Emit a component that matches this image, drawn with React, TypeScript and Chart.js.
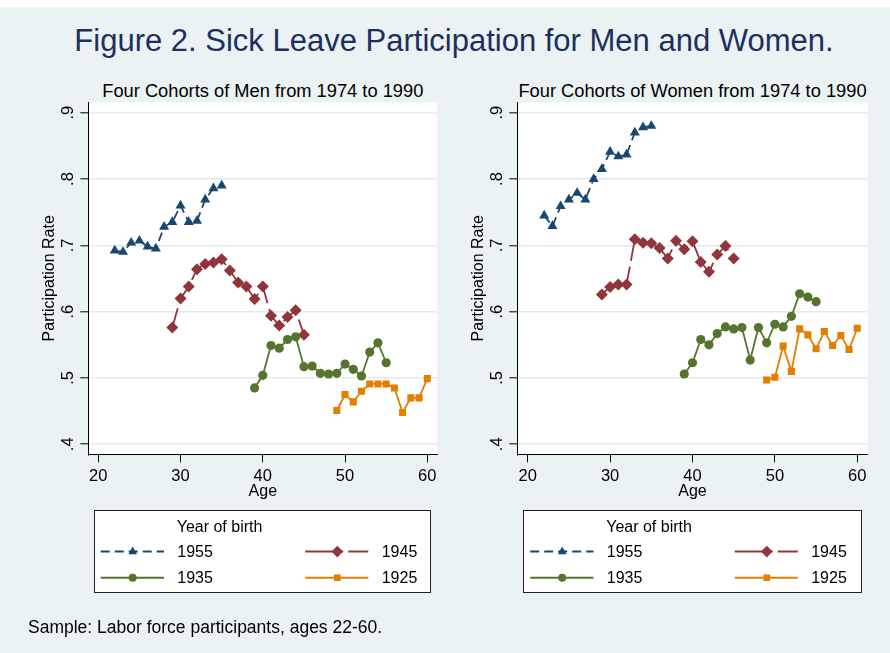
import React, { useEffect, useRef } from "react";
import { Chart, registerables } from "chart.js";

Chart.register(...registerables);

// ---------- text ----------
const mainTitle = "Figure 2. Sick Leave Participation for Men and Women.";
const menSubtitle = "Four Cohorts of Men from 1974 to 1990";
const womenSubtitle = "Four Cohorts of Women from 1974 to 1990";
const xAxisTitle = "Age";
const yAxisTitle = "Participation Rate";
const legendTitle = "Year of birth";
const cohortLabels = ["1955", "1945", "1935", "1925"];
const noteText = "Sample: Labor force participants, ages 22-60.";

// ---------- ticks ----------
const xTickValues = [20, 30, 40, 50, 60];
const yTickValues = [0.4, 0.5, 0.6, 0.7, 0.8, 0.9];
const yTickLabels = [".4", ".5", ".6", ".7", ".8", ".9"];

// ---------- ages per cohort ----------
const ages1955 = [22, 23, 24, 25, 26, 27, 28, 29, 30, 31, 32, 33, 34, 35];
const ages1945 = [29, 30, 31, 32, 33, 34, 35, 36, 37, 38, 39, 40, 41, 42, 43, 44, 45];
const ages1935 = [39, 40, 41, 42, 43, 44, 45, 46, 47, 48, 49, 50, 51, 52, 53, 54, 55];
const ages1925 = [49, 50, 51, 52, 53, 54, 55, 56, 57, 58, 59, 60];

// ---------- men ----------
const men1955 = [0.692, 0.690, 0.704, 0.707, 0.698, 0.695, 0.728, 0.735, 0.760, 0.735, 0.737, 0.769, 0.786, 0.790];
const men1945 = [0.576, 0.620, 0.638, 0.664, 0.672, 0.674, 0.679, 0.662, 0.644, 0.638, 0.619, 0.638, 0.594, 0.579, 0.592, 0.602, 0.565];
const men1935 = [0.485, 0.504, 0.549, 0.545, 0.558, 0.562, 0.517, 0.518, 0.507, 0.506, 0.507, 0.521, 0.513, 0.503, 0.539, 0.553, 0.523];
const men1925 = [0.451, 0.475, 0.464, 0.480, 0.491, 0.491, 0.491, 0.485, 0.448, 0.470, 0.470, 0.499];

// ---------- women ----------
const women1955 = [0.745, 0.729, 0.759, 0.769, 0.779, 0.769, 0.800, 0.815, 0.841, 0.834, 0.837, 0.870, 0.878, 0.880];
const women1945 = [0.626, 0.637, 0.641, 0.641, 0.709, 0.704, 0.703, 0.696, 0.680, 0.707, 0.694, 0.706, 0.675, 0.660, 0.686, 0.699, 0.680];
const women1935 = [0.506, 0.523, 0.558, 0.550, 0.567, 0.577, 0.574, 0.576, 0.527, 0.576, 0.553, 0.581, 0.577, 0.593, 0.627, 0.622, 0.615];
const women1925 = [0.497, 0.501, 0.548, 0.510, 0.574, 0.565, 0.544, 0.570, 0.549, 0.564, 0.543, 0.575];

// ---------- styles ----------
const FONT = "'Liberation Sans', Arial, Helvetica, sans-serif";
const BG = "#eaf2f3";
const GRID = "#e2eaed";
const NAVY = "#1a476f";
const MAROON = "#90353b";
const GREEN = "#55752f";
const ORANGE = "#e37e00";
const TITLE_COLOR = "#1e2f5e";

const cohortStyles = [
  { color: NAVY, pointStyle: "triangle", radius: 5.8, dash: [9, 5], order: 3 },
  { color: MAROON, pointStyle: "rectRot", radius: 6, dash: [20, 6], order: 2 },
  { color: GREEN, pointStyle: "circle", radius: 4.6, dash: [] as number[], order: 1 },
  { color: ORANGE, pointStyle: "rect", radius: 5, dash: [] as number[], order: 0 },
];
const cohortAges = [ages1955, ages1945, ages1935, ages1925];

const CANVAS_TOP = 95;
const CANVAS_W = 445;
const CANVAS_H = 410;
const PLOT_TOP = 102.3;
const PLOT_BOTTOM = 454.3;
const Y_MIN = 0.38492;
const Y_MAX = 0.91568;

const plotBgPlugin = {
  id: "plotBg",
  beforeDraw(chart: any) {
    const { ctx, chartArea } = chart;
    ctx.save();
    ctx.fillStyle = "#ffffff";
    ctx.fillRect(chartArea.left, chartArea.top, chartArea.right - chartArea.left, chartArea.bottom - chartArea.top);
    ctx.restore();
  },
};

const yTickLabelPlugin = {
  id: "yTickLabels",
  afterDraw(chart: any) {
    const s = chart.scales.y;
    const ctx = chart.ctx;
    ctx.save();
    ctx.fillStyle = "#000";
    ctx.font = `16.5px ${FONT}`;
    ctx.textAlign = "center";
    ctx.textBaseline = "alphabetic";
    s.ticks.forEach((t: any, i: number) => {
      const y = s.getPixelForValue(t.value);
      ctx.save();
      ctx.translate(chart.chartArea.left - 15, y);
      ctx.rotate(-Math.PI / 2);
      ctx.fillText(yTickLabels[i], 0, 0);
      ctx.restore();
    });
    ctx.restore();
  },
};

type PanelProps = {
  canvasLeft: number;
  plotLeft: number;
  plotRight: number;
  xMin: number;
  xMax: number;
  values: number[][];
};

function Panel({ canvasLeft, plotLeft, plotRight, xMin, xMax, values }: PanelProps) {
  const ref = useRef<HTMLCanvasElement>(null);
  useEffect(() => {
    const canvas = ref.current!;
    const datasets = values.map((vals, k) => {
      const st = cohortStyles[k];
      return {
        label: cohortLabels[k],
        data: cohortAges[k].map((a, i) => ({ x: a, y: vals[i] })),
        borderColor: st.color,
        backgroundColor: st.color,
        borderWidth: 1.8,
        borderDash: st.dash,
        pointStyle: st.pointStyle,
        pointRadius: st.radius,
        pointBorderWidth: 0,
        pointBackgroundColor: st.color,
        pointBorderColor: st.color,
        tension: 0,
        fill: false,
        order: st.order,
      };
    });
    const chart = new Chart(canvas, {
      type: "line",
      data: { datasets: datasets as any },
      options: {
        animation: false,
        responsive: false,
        maintainAspectRatio: false,
        devicePixelRatio: 1,
        layout: {
          padding: {
            top: PLOT_TOP - CANVAS_TOP,
            right: canvasLeft + CANVAS_W - plotRight,
            left: 0,
            bottom: 0,
          },
        },
        plugins: {
          legend: { display: false },
          tooltip: { enabled: false },
          title: { display: false },
        },
        scales: {
          x: {
            type: "linear",
            min: xMin,
            max: xMax,
            afterBuildTicks: (s: any) => {
              s.ticks = xTickValues.map((v) => ({ value: v }));
            },
            afterFit: (s: any) => {
              s.height = CANVAS_TOP + CANVAS_H - PLOT_BOTTOM;
            },
            ticks: {
              color: "#000",
              font: { size: 16.5, family: FONT },
              padding: 4.3,
              autoSkip: false,
              maxRotation: 0,
              minRotation: 0,
              callback: (v: any) => String(v),
            },
            grid: {
              drawOnChartArea: false,
              tickLength: 8,
              tickColor: "#000",
              tickWidth: 1,
            },
            border: { display: true, color: "#000", width: 1 },
            title: {
              display: true,
              text: xAxisTitle,
              color: "#000",
              font: { size: 16, family: FONT },
              padding: { top: 0, bottom: 3.7 },
            },
          },
          y: {
            type: "linear",
            min: Y_MIN,
            max: Y_MAX,
            afterBuildTicks: (s: any) => {
              s.ticks = yTickValues.map((v) => ({ value: v }));
            },
            afterFit: (s: any) => {
              s.width = plotLeft - canvasLeft;
            },
            ticks: { display: false },
            grid: {
              color: GRID,
              lineWidth: 1.6,
              tickLength: 8,
              tickColor: "#000",
              tickWidth: 1,
            },
            border: { display: true, color: "#000", width: 1 },
            title: {
              display: true,
              text: yAxisTitle,
              color: "#000",
              font: { size: 16, family: FONT },
              padding: { top: plotLeft - 39 - canvasLeft - 9.6, bottom: 0 },
            },
          },
        },
      } as any,
      plugins: [plotBgPlugin, yTickLabelPlugin],
    });
    return () => chart.destroy();
  }, []);
  return (
    <canvas
      ref={ref}
      width={CANVAS_W}
      height={CANVAS_H}
      style={{ position: "absolute", left: canvasLeft, top: CANVAS_TOP, width: CANVAS_W, height: CANVAS_H }}
    />
  );
}

function Txt(props: {
  text: string;
  left: number;
  baseline: number;
  size: number;
  width?: number;
  align?: "left" | "center";
  color?: string;
}) {
  const { text, left, baseline, size, width, align = "left", color = "#000" } = props;
  const lh = size * 1.4;
  const top = baseline - ((1.4 - 1.117) / 2 + 0.905) * size;
  return (
    <div
      style={{
        position: "absolute",
        left,
        top,
        width: width,
        fontSize: size,
        lineHeight: lh + "px",
        textAlign: align,
        whiteSpace: "nowrap",
        color,
        fontFamily: FONT,
      }}
    >
      {text}
    </div>
  );
}

function Legend({ boxLeft, boxWidth, shift }: { boxLeft: number; boxWidth: number; shift: number }) {
  const row1 = 551.6;
  const row2 = 577.7;
  const c1a = 100.7 + shift, c1b = 164 + shift, c1m = 132.7 + shift;
  const c2a = 305.3 + shift, c2b = 368.3 + shift, c2m = 337.3 + shift;
  return (
    <>
      <div
        style={{
          position: "absolute",
          left: boxLeft,
          top: 510,
          width: boxWidth,
          height: 83.3,
          boxSizing: "border-box",
          border: "1.2px solid #222",
          background: "#fff",
        }}
      />
      <svg
        width={890}
        height={653}
        style={{ position: "absolute", left: 0, top: 0, pointerEvents: "none" }}
      >
        <line x1={c1a} y1={row1} x2={c1b} y2={row1} stroke={NAVY} strokeWidth={2} strokeDasharray="9 5" />
        <polygon
          points={`${c1m},${row1 - 5} ${c1m - 4.3},${row1 + 2.6} ${c1m + 4.3},${row1 + 2.6}`}
          fill={NAVY}
        />
        <line x1={c2a} y1={row1} x2={c2b} y2={row1} stroke={MAROON} strokeWidth={2} strokeDasharray="38 5" />
        <polygon
          points={`${c2m},${row1 - 5.8} ${c2m + 5.8},${row1} ${c2m},${row1 + 5.8} ${c2m - 5.8},${row1}`}
          fill={MAROON}
        />
        <line x1={c1a} y1={row2} x2={c1b} y2={row2} stroke={GREEN} strokeWidth={2} />
        <circle cx={c1m} cy={row2} r={4} fill={GREEN} />
        <line x1={c2a} y1={row2} x2={c2b} y2={row2} stroke={ORANGE} strokeWidth={2} />
        <rect x={c2m - 3.3} y={row2 - 3.3} width={6.6} height={6.6} fill={ORANGE} />
      </svg>
      <Txt text={legendTitle} left={176.7 + shift} baseline={533.2} size={16} />
      <Txt text={cohortLabels[0]} left={177.3 + shift} baseline={558} size={16} />
      <Txt text={cohortLabels[1]} left={381.7 + shift} baseline={558} size={16} />
      <Txt text={cohortLabels[2]} left={177.3 + shift} baseline={584} size={16} />
      <Txt text={cohortLabels[3]} left={381.7 + shift} baseline={584} size={16} />
    </>
  );
}

export default function App() {
  const left = { canvasLeft: 0, plotLeft: 88.3, plotRight: 437.3, xMin: 18.784, xMax: 61.216 };
  const right = { canvasLeft: 429, plotLeft: 517.3, plotRight: 867.7, xMin: 18.738, xMax: 61.262 };
  return (
    <div
      style={{
        position: "absolute",
        left: 0,
        top: 0,
        width: 890,
        height: 653,
        background: BG,
        overflow: "hidden",
        fontFamily: FONT,
      }}
    >
      <div style={{ position: "absolute", left: 0, top: 0, width: 890, height: 7, background: "#fff" }} />
      <Txt text={mainTitle} left={54} width={800} align="center" baseline={51.7} size={31} color={TITLE_COLOR} />
      <Txt
        text={menSubtitle}
        left={left.plotLeft}
        width={left.plotRight - left.plotLeft}
        align="center"
        baseline={96.7}
        size={18.3}
      />
      <Txt
        text={womenSubtitle}
        left={right.plotLeft}
        width={right.plotRight - right.plotLeft}
        align="center"
        baseline={96.7}
        size={18.3}
      />
      <Panel {...left} values={[men1955, men1945, men1935, men1925]} />
      <Panel {...right} values={[women1955, women1945, women1935, women1925]} />
      <Legend boxLeft={94} boxWidth={337} shift={0} />
      <Legend boxLeft={522.7} boxWidth={339.3} shift={429.5} />
      <Txt text={noteText} left={28} baseline={633.3} size={17.5} />
    </div>
  );
}
